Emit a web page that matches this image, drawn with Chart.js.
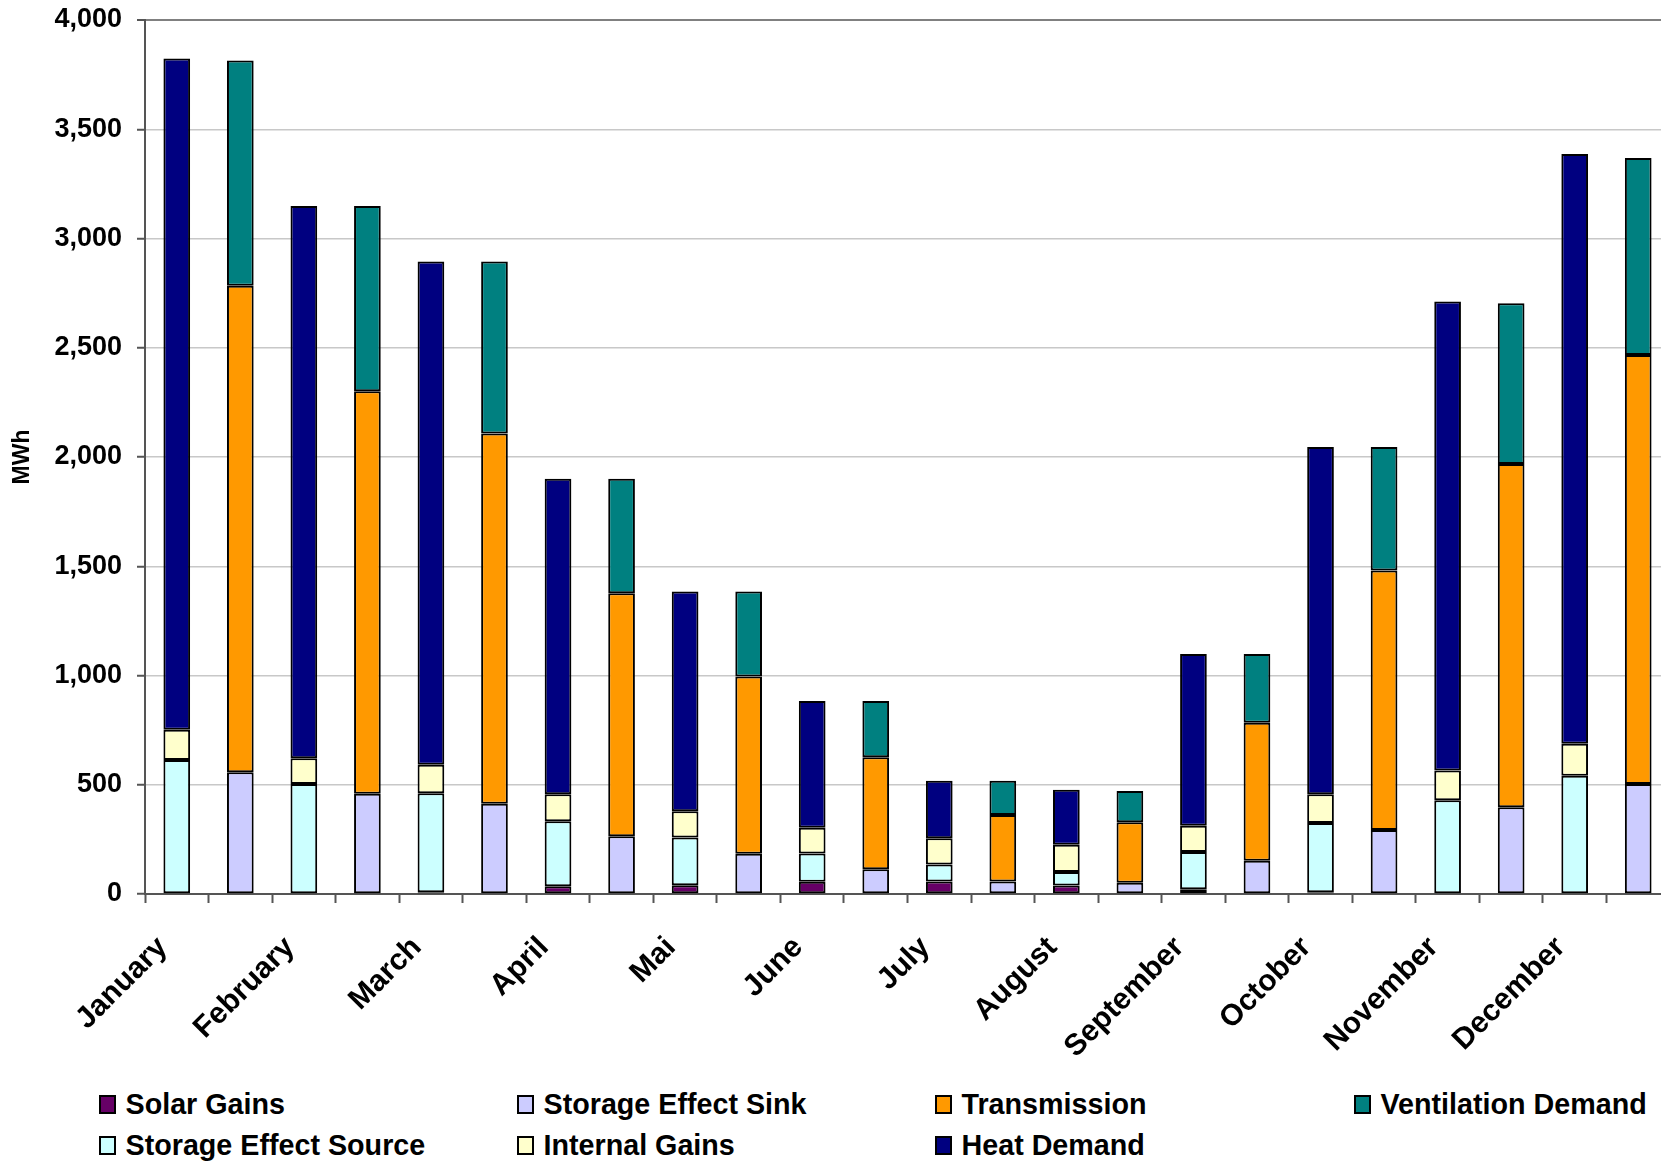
<!DOCTYPE html>
<html><head><meta charset="utf-8">
<script src="https://cdn.jsdelivr.net/npm/chart.js@4.4.0/dist/chart.umd.min.js"></script>
<style>
html,body{margin:0;padding:0;overflow:hidden;background:#fff;width:1661px;height:1161px;}
#wrap{position:relative;width:1661px;height:1161px;overflow:hidden;background:#fff;}
canvas{position:absolute;left:0;top:0;}
.li{position:absolute;height:20px;display:flex;align-items:center;font:bold 28.7px "Liberation Sans",Arial,sans-serif;color:#000;white-space:nowrap;line-height:20px;}
.sw{width:13px;height:15px;border:2px solid #000;margin-right:9.5px;flex:none;}
</style></head><body>
<div id="wrap"><canvas id="c" width="1680" height="1080"></canvas><div id="legend"></div></div>
<script>
// ---- data (MWh) ----
const months = ["January","February","March","April","Mai","June","July","August","September","October","November","December"];
// gains column (left bar of each month)
const solarGains          = [0, 0, 8, 35, 40, 56, 57, 39, 22, 8, 0, 0];
const storageEffectSource = [613, 504, 453, 298, 219, 129, 78, 62, 170, 317, 429, 541];
const internalGains       = [139, 117, 131, 123, 120, 118, 120, 124, 120, 131, 136, 147];
const heatDemand          = [3072, 2528, 2303, 1444, 1005, 580, 263, 252, 786, 1590, 2147, 2699];
// losses column (right bar of each month)
const storageEffectSink   = [557, 459, 413, 264, 184, 113, 57, 51, 152, 293, 397, 503];
const transmission        = [2227, 1842, 1694, 1112, 811, 513, 305, 277, 632, 1187, 1571, 1964];
const ventilationDemand   = [1031, 848, 788, 524, 389, 257, 156, 143, 314, 566, 736, 901];
const yTicks = [0, 500, 1000, 1500, 2000, 2500, 3000, 3500, 4000];

// ---- build chart structures ----
const labels = months.flatMap(m => [m, ""]);
const onGains = arr => arr.flatMap(v => [v, null]);
const onLosses = arr => arr.flatMap(v => [null, v]);

const seriesDefs = [
  {label: "Solar Gains", values: onGains(solarGains), color: "#660066"},
  {label: "Storage Effect Sink", values: onLosses(storageEffectSink), color: "#CCCCFF"},
  {label: "Transmission", values: onLosses(transmission), color: "#FF9900"},
  {label: "Ventilation Demand", values: onLosses(ventilationDemand), color: "#008080"},
  {label: "Storage Effect Source", values: onGains(storageEffectSource), color: "#CCFFFF"},
  {label: "Internal Gains", values: onGains(internalGains), color: "#FFFFCC"},
  {label: "Heat Demand", values: onGains(heatDemand), color: "#000080"}
];

const FONT = '"Liberation Sans", Arial, sans-serif';
Chart.defaults.font.family = FONT;
Chart.defaults.font.size = 27;
Chart.defaults.font.weight = "bold";
Chart.defaults.color = "#000";

const chart = new Chart(document.getElementById("c"), {
  type: "bar",
  data: {
    labels: labels,
    datasets: seriesDefs.map(s => ({
      label: s.label,
      data: s.values,
      backgroundColor: s.color,
      borderColor: "#000",
      borderWidth: 2,
      borderSkipped: false,
      barPercentage: 0.42,
      categoryPercentage: 1.0,
      stack: "all"
    }))
  },
  options: {
    responsive: false,
    animation: false,
    devicePixelRatio: 1,
    layout: {padding: {top: 20, right: 10, bottom: 0, left: 0}},
    plugins: {legend: {display: false}, tooltip: {enabled: false}},
    scales: {
      x: {
        stacked: true,
        afterFit: s => { s.height = 186; s.paddingLeft = 0; s.paddingRight = 0; },
        grid: {display: true, drawOnChartArea: false, drawTicks: true, tickLength: 9, tickColor: "#555", tickWidth: 2, offset: true},
        border: {display: true, color: "#555", width: 2},
        ticks: {autoSkip: false, maxRotation: 45, minRotation: 45, padding: 27, labelOffset: -14,
                font: {size: 30, weight: "bold"}, color: "#000"}
      },
      y: {
        stacked: true,
        min: 0, max: 4000,
        afterFit: s => { s.width = 145; s.paddingTop = 0; s.paddingBottom = 0; },
        afterBuildTicks: s => { s.ticks = yTicks.map(v => ({value: v})); },
        grid: {
          color: c => (c.tick && c.tick.value === 4000) ? "#808080" : "#c8c8c8",
          lineWidth: c => (c.tick && c.tick.value === 4000) ? 2 : 1.5,
          drawTicks: true, tickLength: 8, tickColor: "#555", tickWidth: 2
        },
        border: {display: true, color: "#555", width: 2},
        ticks: {padding: 15, font: {size: 27, weight: "bold"}, color: "#000",
                callback: v => v.toLocaleString("en-US")},
        title: {display: true, text: "MWh", font: {size: 23, weight: "bold"}, color: "#000", padding: {top: 9, bottom: 0}}
      }
    }
  }
});

// ---- legend (grid like the original) ----
const colLeft = [99, 517, 935, 1354];
const rowTop = [1094, 1135];
const legend = document.getElementById("legend");
chart.data.datasets.forEach((ds, i) => {
  const item = document.createElement("div");
  item.className = "li";
  item.style.left = colLeft[i % 4] + "px";
  item.style.top = rowTop[Math.floor(i / 4)] + "px";
  const sw = document.createElement("span");
  sw.className = "sw";
  sw.style.background = ds.backgroundColor;
  const tx = document.createElement("span");
  tx.textContent = ds.label;
  item.appendChild(sw);
  item.appendChild(tx);
  legend.appendChild(item);
});
</script>
</body></html>
